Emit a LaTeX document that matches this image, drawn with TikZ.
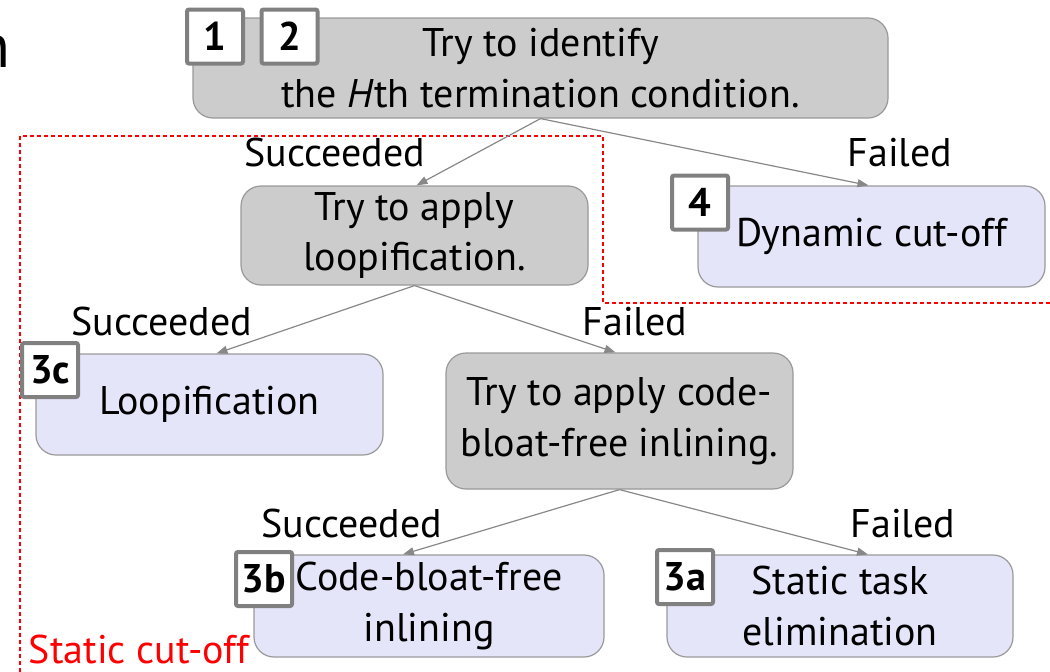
\documentclass[tikz,border=0pt]{standalone}
\usepackage{fontspec}
\setmainfont{PT Sans}
\usetikzlibrary{arrows.meta,calc}

\definecolor{boxgray}{HTML}{CCCCCC}
\definecolor{boxblue}{HTML}{E5E5FA}
\definecolor{edgegray}{HTML}{999999}
\definecolor{linkgray}{HTML}{888888}
\definecolor{badgegray}{HTML}{808080}

\tikzset{
  basefont/.style={font=\fontsize{40}{50.5}\selectfont},
  stepbox/.style={basefont, draw=edgegray, line width=1.2pt, rounded corners=20pt,
    align=center, inner sep=0pt, minimum width=347pt},
  trybox/.style={stepbox, fill=boxgray},
  resbox/.style={stepbox, fill=boxblue},
  badge/.style={draw=badgegray, fill=white, line width=4pt, rounded corners=2pt,
    minimum width=56pt, minimum height=54pt, inner sep=0pt,
    font=\fontsize{40}{50}\selectfont\bfseries},
  lbl/.style={basefont, anchor=base, inner sep=0pt},
  link/.style={draw=linkgray, line width=1.2pt,
    -{Triangle[length=11pt,width=8pt]}},
  cutline/.style={draw=red, line width=2pt, dash pattern=on 4pt off 3pt}
}

\begin{document}
\begin{tikzpicture}[x=1pt, y=-1pt]
\useasboundingbox (0,0) rectangle (1050,672);

% fragment of a heading at the left edge
\node[font=\fontsize{62}{70}\selectfont, anchor=base east, inner sep=0pt] (frag) at (11,67) {n};

% static cut-off region
\draw[cutline] (20,672) -- (20,136) -- (603,136) -- (603,303) -- (1050,303);
\node[lbl, text=red, anchor=base, text depth=0pt] (static) at (139,663) {Static cut-off};

% decision and result boxes
\node[trybox, minimum width=695pt, minimum height=100pt] (b1) at (540.5,68)
  {Try to identify\\the \textit{H}th termination condition.};
\node[trybox, minimum height=99pt] (b2) at (414.5,235.5) {Try to apply\\loopification.};
\node[resbox, minimum height=101pt] (b4) at (871.5,236.5) {Dynamic cut-off};
\node[resbox, minimum height=101pt] (b3c) at (209.5,404.5) {Loopification};
\node[trybox, minimum height=136pt] (b5) at (619.5,421) {Try to apply code-\\bloat-free inlining.};
\node[resbox, minimum width=350pt, minimum height=102pt] (b3b) at (429,606) {Code-bloat-free\\inlining};
\node[resbox, minimum width=346pt, minimum height=102pt] (b3a) at (840,606) {Static task\\elimination};

% step badges
\node[badge] (s1) at (215,36.5) {1};
\node[badge] (s2) at (289.5,36.5) {2};
\node[badge] (s4) at (700,202.5) {4};
\node[badge] (s3c) at (50,370) {3c};
\node[badge] (s3b) at (264,579) {3b};
\node[badge] (s3a) at (685,577) {3a};

% outcome labels
\node[lbl] (l1s) at (335,166) {Succeeded};
\node[lbl] (l1f) at (900,166) {Failed};
\node[lbl] (l2s) at (161.5,335) {Succeeded};
\node[lbl] (l2f) at (635,335) {Failed};
\node[lbl] (l5s) at (351.5,537) {Succeeded};
\node[lbl] (l5f) at (903,537) {Failed};

% connectors
\draw[link] (b1.south) -- ($(b2.north)+(2,0)$);
\draw[link] (b1.south) -- ($(b4.north)+(-3,0)$);
\draw[link] (b2.south) -- ($(b3c.north)+(7,0)$);
\draw[link] (b2.south) -- ($(b5.north)+(-4,0)$);
\draw[link] (b5.south) -- ($(b3b.north)+(-26,0)$);
\draw[link] (b5.south) -- ($(b3a.north)+(28,0)$);
\end{tikzpicture}
\end{document}
